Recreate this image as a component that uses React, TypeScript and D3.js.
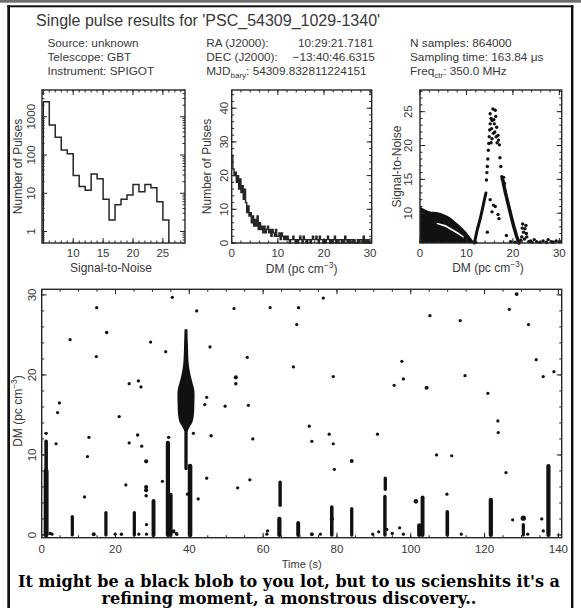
import * as d3 from "d3";

const W = 581;
const H = 608;

// header text
const titleText = "Single pulse results for 'PSC_54309_1029-1340'";
const sourceLines = ["Source: unknown", "Telescope: GBT", "Instrument: SPIGOT"];
const obsLines = ["N samples: 864000", "Sampling time: 163.84 \u03bcs"];
const captionLines = [
  "It might be a black blob to you lot, but to us scienshits it's a",
  "refining moment, a monstrous discovery..",
];

// SNR histogram (log counts), bins of width 1
const snrBinLow = [5, 6, 7, 8, 9, 10, 11, 12, 13, 14, 15, 16, 17, 18, 19, 20, 21, 22, 23, 24, 25];
const snrCounts = [2450, 610, 290, 135, 107, 29, 15, 12, 32, 24, 7, 2, 5, 7, 9, 17, 11, 17, 14, 6, 2];

// DM histogram, bins of 0.25 pc cm^-3 starting at 0
const dmBinWidth = 0.25;
const dmCounts = [
  26, 22, 20, 21, 18, 20, 16, 19, 15, 17, 13, 16, 12, 9, 11, 8, 9, 6, 8, 5, 7, 5, 8, 4,
  6, 4, 5, 3, 5, 3, 4, 5, 3, 4, 2, 4, 3, 2, 4, 2, 2, 3, 1, 3, 2, 1, 2, 1, 2, 1, 0, 1,
  1, 2, 1, 0, 1, 0, 1, 2, 1, 0, 2, 1, 1, 0, 1, 1, 0, 1, 2, 1, 1, 2, 1, 0, 2, 1, 1, 0,
  1, 0, 1, 2, 1, 0, 1, 0, 1, 2, 0, 1, 0, 1, 1, 0, 1, 0, 2, 1, 0, 1, 0, 1, 1, 0, 1, 0,
  0, 1, 0, 1, 1, 0, 2, 0, 1, 0, 1, 0,
];

// SNR vs DM: dense low-DM floor (upper envelope), a thin gap inside it, ridges and points
const floorDm = [0, 1, 2, 3, 4, 5, 6, 7, 8, 9, 10, 11, 11.7];
const floorSnr = [11.0, 10.6, 10.3, 10.2, 10.1, 9.9, 9.6, 9.1, 8.5, 7.9, 7.2, 6.3, 5.6];
const gapDm = [3.6, 5.5, 8, 9.4, 9.4, 8, 5.5, 3.6];
const gapSnr = [8.6, 8.25, 7.25, 6.6, 6.35, 6.95, 7.95, 8.4];
const leftRidge: [number, number][] = [[11.7, 5.6], [12.3, 7.5], [12.9, 9.0], [13.4, 10.5], [13.8, 11.8], [14.2, 13.0]];
const rightRidge: [number, number][] = [[17.9, 14.6], [18.4, 13.0], [19.0, 11.3], [19.6, 9.6], [20.2, 8.0], [20.8, 6.6], [21.3, 5.6]];
const dmSnrPoints: [number, number][] = [
  [14.3, 14.9], [14.4, 16], [14.5, 16.9], [14.6, 18], [14.7, 19.3], [14.8, 20.3], [14.9, 21.3],
  [15.0, 22.3], [15.1, 23.2], [15.1, 24.7], [15.3, 24.0], [15.5, 23.7], [15.4, 22.5], [15.5, 21.0],
  [15.7, 25.4], [15.8, 21.8], [15.9, 23.8], [16.0, 23.2], [16.1, 22.0], [16.2, 25.2], [16.3, 24.3],
  [16.4, 21.3], [16.5, 22.7], [16.6, 20.4], [16.8, 21.5], [16.9, 20.8], [17.1, 20.1], [17.2, 18.2],
  [17.4, 16.9], [17.6, 15.4], [17.7, 15.0], [17.9, 14.8], [18.0, 15.3], [18.2, 14.4], [15.3, 20.4],
  [15.1, 12.0], [15.8, 11.2], [16.2, 11.0], [15.5, 10.2], [17.0, 9.2], [14.5, 7.2], [18.6, 6.7], [16.8, 9.8],
  [22.1, 8.4], [22.8, 8.2], [22.3, 7.2], [21.9, 6.5], [23.0, 6.5], [23.4, 5.8], [22.6, 7.7], [22.0, 7.8],
  [22.9, 7.0], [21.7, 6.0], [22.5, 6.2], [19.5, 5.8], [20.5, 5.7], [23.8, 5.9], [24.1, 5.7], [24.6, 6.1],
  [25.1, 5.8], [25.8, 5.7], [26.5, 5.9], [27.2, 5.7], [27.6, 6.1], [28.3, 5.8], [28.7, 5.7], [29.3, 5.9],
  [30.0, 5.8], [12.0, 5.7],
];

// DM vs time: single events [time s, DM, SNR]
const pulseDots: [number, number, number][] = [
  [14.9, 28.4, 5.5], [35.4, 29.7, 5.5], [42, 28, 5.5], [52.1, 28.3, 5.5], [61.9, 28.4, 5.5], [69.6, 28.4, 5.5],
  [17.6, 25.3, 5.8], [7.7, 24.4, 5.5], [29.5, 24.1, 5.5], [45.6, 23.5, 5.5], [33.6, 22.9, 5.5], [69.1, 26.3, 5.5],
  [14.8, 22.3, 5.5], [55.7, 22.2, 5.5], [68.2, 21.0, 5.5], [52.6, 19.7, 6.8], [52.6, 18.9, 5.8], [23.7, 18.9, 5.5],
  [26.2, 19.25, 5.5], [26.9, 18.5, 5.5], [4.8, 16.5, 5.5], [4.3, 15.3, 5.5], [44.7, 17.2, 5.5], [44.2, 16.3, 5.5],
  [49.7, 16.1, 5.5], [56, 16.2, 5.5], [21, 14.8, 5.5], [26, 12.5, 5.8], [12.8, 12.2, 5.5], [45.9, 12.4, 5.8],
  [41.1, 12.7, 5.5], [57.2, 12, 5.5], [3.9, 11.4, 5.5], [23.7, 11.5, 5.5], [27.1, 11.1, 5.5], [12.4, 9.8, 5.5],
  [28.3, 9.2, 6.8], [44.7, 7.1, 5.5], [22.8, 6.25, 5.5], [32.7, 6.7, 5.5], [53.1, 5.9, 5.5], [56.4, 6.9, 5.5],
  [11.6, 4.75, 5.5], [42.4, 4.5, 5.5], [39.5, 5.1, 5.5], [28.3, 6.0, 6.8], [28.3, 5.6, 6.8], [28.3, 4.9, 5.8],
  [28.4, 1.3, 5.5], [28.4, 0.1, 5.5], [19.9, 0.1, 5.5], [21.6, 0.1, 5.8], [14.1, 0.1, 6.5], [26.3, 0.1, 5.5],
  [36.6, 0.1, 5.8], [35.7, 0.4, 5.8], [61, 0.1, 5.5], [61.2, 0.5, 5.5], [1.2, 12.7, 5.8], [34.4, 12.2, 5.8],
  [2.3, 0.2, 5.8], [2.8, 0.1, 5.5], [35.8, 0.5, 5.5], [36.5, 0.2, 5.5],
  [76.3, 29.6, 5.5], [128.7, 30.1, 6.5], [126.7, 28.2, 5.5], [105.2, 27.4, 5.5], [113.4, 26.8, 5.5],
  [131.9, 26.3, 5.5], [97.6, 21.7, 5.5], [79, 19.8, 5.5], [114.7, 19.9, 5.5], [98, 19.5, 5.5], [95.5, 18.7, 5.5],
  [104.3, 18.4, 6.8], [120.9, 17.7, 5.5], [134, 21.9, 5.5], [135.9, 19.8, 5.5], [138.8, 20.4, 5.5],
  [72.5, 13.6, 5.5], [73.2, 11.7, 5.5], [77.9, 12.6, 5.5], [79, 11.4, 5.5], [91, 12.6, 5.5], [123.6, 14.25, 5.5],
  [123.7, 12.8, 5.5], [107, 10, 5.5], [111.1, 9.9, 5.5], [79.3, 8.2, 5.5], [84, 9.25, 6.5], [125.8, 7.8, 5.5],
  [109.8, 5.1, 5.5], [127.6, 1.9, 5.5], [135.5, 2.0, 5.5], [73.2, 0.1, 6.5], [75.5, 0.1, 5.5], [89.7, 0.1, 5.5],
  [91.3, 0.4, 5.5], [93.5, 0.7, 5.5], [95, 0.2, 5.5], [97, 0.9, 5.5], [98, 0.1, 5.5], [113.7, 0.1, 5.5],
  [131.7, 0.1, 5.5], [135.9, 0.5, 5.5], [130.5, 2.1, 8.5], [101.4, 4.2, 7.5], [78.6, 2.0, 7.0],
];

// DM vs time: stacked repeat columns [time s, DM low, DM high, SNR]
const pulseColumns: [number, number, number, number][] = [
  [1.2, 0, 8, 8], [1.2, 8, 11.7, 6], [8.3, 0, 2.3, 5.5], [17.4, 0, 2.8, 5.5], [25.1, 0, 2.8, 5.5],
  [30.3, 0, 4.25, 6.5], [34.2, 0, 11.5, 7], [34.9, 0, 5, 7], [40.2, 0, 8.6, 7.5], [39.1, 8.3, 14, 5.6],
  [64.4, 0, 2, 7], [64.6, 3.7, 6.6, 5.8], [69.5, 0, 1.5, 6.5], [78.6, 0, 3.5, 6], [84, 0, 3.3, 5.6],
  [93, 0, 4.8, 5.8], [93.1, 5.7, 7.1, 5.6], [103.2, 0, 4.7, 6.5], [102.3, 0, 1.2, 7], [109.9, 0, 2.9, 6],
  [121.7, 0, 4.4, 7], [130.5, 0, 1.3, 5.5], [137.3, 0, 8.6, 7],
];

// the big pulse at ~39 s: SNR profile along DM
const blobTime = 39.1;
const blobDm = [13, 13.5, 14, 14.8, 16.5, 18.1, 19, 20.1, 21.4, 23.9, 25.7];
const blobSnr = [5.9, 11.3, 18.7, 23.5, 25.6, 25.4, 20.1, 13.7, 8.8, 6.3, 5];

const ink = "#262626";
const txt = "#383838";
const tickFont = 11.5;
const titleFont = 12;

function span(a: number, b: number, step: number) {
  const lo = Math.min(a, b);
  const hi = Math.max(a, b);
  return d3.range(Math.ceil(lo / step - 1e-9) * step, hi + 1e-9, step);
}

function Frame({ xs, ys, xMajor, xMinor, yMajor, yMinor }: any) {
  const [l, r] = xs.range();
  const [b, t] = ys.range();
  const out: any[] = [];
  const xt = (v: number, len: number, k: string) => {
    const p = xs(v);
    out.push(<line key={"xb" + k} x1={p} x2={p} y1={b} y2={b - len} />);
    out.push(<line key={"xt" + k} x1={p} x2={p} y1={t} y2={t + len} />);
  };
  const yt = (v: number, len: number, k: string) => {
    const p = ys(v);
    out.push(<line key={"yl" + k} x1={l} x2={l + len} y1={p} y2={p} />);
    out.push(<line key={"yr" + k} x1={r} x2={r - len} y1={p} y2={p} />);
  };
  xMinor.forEach((v: number, i: number) => xt(v, 2.5, "m" + i));
  xMajor.forEach((v: number, i: number) => xt(v, 5, "M" + i));
  yMinor.forEach((v: number, i: number) => yt(v, 2.5, "m" + i));
  yMajor.forEach((v: number, i: number) => yt(v, 5, "M" + i));
  return (
    <g stroke={ink} fill="none" strokeWidth={1}>
      {out}
      <rect x={l} y={t} width={r - l} height={b - t} strokeWidth={1.4} />
    </g>
  );
}

function XLabels({ xs, values, y }: any) {
  return (
    <g fontSize={tickFont} fill={txt} textAnchor="middle" dominantBaseline="central">
      {values.map((v: number) => (
        <text key={v} x={xs(v)} y={y}>{v}</text>
      ))}
    </g>
  );
}

function YLabels({ ys, values, x }: any) {
  return (
    <g fontSize={tickFont} fill={txt} textAnchor="middle" dominantBaseline="central">
      {values.map((v: number) => (
        <text key={v} transform={`translate(${x},${ys(v)}) rotate(-90)`}>{v}</text>
      ))}
    </g>
  );
}

function DmUnit() {
  return (
    <>
      DM (pc cm<tspan dy={-4.5} fontSize={8.5}>{"\u22123"}</tspan><tspan dy={4.5}>)</tspan>
    </>
  );
}

function AxisTitle({ x, y, rotate, size, children }: any) {
  return (
    <text
      transform={rotate ? `translate(${x},${y}) rotate(-90)` : undefined}
      x={rotate ? undefined : x}
      y={rotate ? undefined : y}
      fontSize={size ?? titleFont}
      fill={txt}
      textAnchor="middle"
      dominantBaseline="central"
    >
      {children}
    </text>
  );
}

export default function App() {
  // panel 1: SNR histogram
  const x1 = d3.scaleLinear().domain([4.78, 28.7]).range([42, 185]);
  const y1 = d3.scaleLog().domain([0.5, 5000]).range([243, 90]);
  const snrSteps: [number, number][] = snrBinLow.map((v, i) => [v, snrCounts[i]]);
  const lastBin = snrBinLow[snrBinLow.length - 1] + 1;
  const snrLine = d3
    .line<[number, number]>()
    .x((d) => x1(d[0]))
    .y((d) => y1(Math.max(d[1], 0.5)))
    .curve(d3.curveStepAfter)([[snrBinLow[0], 0.5], ...snrSteps, [lastBin, snrCounts[snrCounts.length - 1]], [lastBin, 0.5]]);
  const logMinor: number[] = [];
  [0.1, 1, 10, 100, 1000].forEach((dec) =>
    d3.range(2, 10).forEach((m) => {
      const v = dec * m;
      if (v >= 0.5 && v <= 5000) logMinor.push(v);
    })
  );

  // panel 2: DM histogram
  const x2 = d3.scaleLinear().domain([0, 30.35]).range([231.7, 371.7]);
  const y2 = d3.scaleLinear().domain([0, 45.4]).range([243, 90]);
  const dmSteps: [number, number][] = dmCounts.map((c, i) => [i * dmBinWidth, c]);
  dmSteps.push([dmCounts.length * dmBinWidth, dmCounts[dmCounts.length - 1]]);
  const dmLine = d3
    .line<[number, number]>()
    .x((d) => x2(d[0]))
    .y((d) => y2(d[1]))
    .curve(d3.curveStepAfter)(dmSteps);

  // panel 3: SNR vs DM
  const x3 = d3.scaleLinear().domain([0, 30.5]).range([420, 561.7]);
  const y3 = d3.scaleLinear().domain([5.6, 28.2]).range([243, 90]);
  const floorPts: [number, number][] = floorDm.map((d, i) => [d, floorSnr[i]]);
  const floorArea = d3
    .area<[number, number]>()
    .x((d) => x3(d[0]))
    .y0(y3(5.6))
    .y1((d) => y3(d[1]))
    .curve(d3.curveMonotoneX)(floorPts);
  const gapPath = d3
    .line<[number, number]>()
    .x((d) => x3(d[0]))
    .y((d) => y3(d[1]))
    .curve(d3.curveLinearClosed)(gapDm.map((d, i) => [d, gapSnr[i]]));
  const ridge = d3
    .line<[number, number]>()
    .x((d) => x3(d[0]))
    .y((d) => y3(d[1]));

  // panel 4: DM vs time
  const x4 = d3.scaleLinear().domain([0, 140.9]).range([41.7, 561.7]);
  const y4 = d3.scaleLinear().domain([-0.34, 30.7]).range([537.7, 289.3]);
  const rad = d3.scaleLinear().domain([5, 25]).range([1.45, 8.2]);
  const blobPts: [number, number][] = blobDm.map((d, i) => [d, blobSnr[i]]);
  const blobArea = d3
    .area<[number, number]>()
    .y((d) => y4(d[0]))
    .x0((d) => x4(blobTime) - rad(d[1]))
    .x1((d) => x4(blobTime) + rad(d[1]))
    .curve(d3.curveCatmullRom)(blobPts);

  const hdr = 11.8;
  const row = [47, 61, 75];

  return (
    <svg
      width={W}
      height={H}
      style={{ position: "absolute", left: 0, top: 0, background: "#fff" }}
      fontFamily="'Liberation Sans', Arial, sans-serif"
    >
      <rect x={0} y={0} width={W} height={H} fill="#fff" />
      {/* outer frame */}
      <rect x={0} y={0} width={W} height={2.7} fill="#6e6e6e" />
      <rect x={7.3} y={5.3} width={566} height={2} fill="#111" />
      <rect x={7.3} y={5.3} width={2.7} height={H} fill="#111" />
      <rect x={571} y={5.3} width={2.4} height={H} fill="#111" />

      {/* header */}
      <g fill={txt}>
        <text x={36} y={26} fontSize={16}>{titleText}</text>
        <g fontSize={hdr}>
          {sourceLines.map((s, i) => (
            <text key={s} x={47.4} y={row[i]}>{s}</text>
          ))}
          <text x={206.3} y={row[0]}>RA (J2000):</text>
          <text x={298} y={row[0]}>10:29:21.7181</text>
          <text x={206.3} y={row[1]}>DEC (J2000):</text>
          <text x={292.6} y={row[1]}>{"\u221213:40:46.6315"}</text>
          <text x={206.3} y={row[2]}>
            MJD<tspan dy={3} fontSize={8}>bary</tspan>
            <tspan dy={-3}>: 54309.832811224151</tspan>
          </text>
          {obsLines.map((s, i) => (
            <text key={s} x={410} y={row[i]}>{s}</text>
          ))}
          <text x={410} y={row[2]}>
            Freq<tspan dy={3} fontSize={8}>ctr</tspan>
            <tspan dy={-3}>: 350.0 MHz</tspan>
          </text>
        </g>
      </g>

      {/* panel 1 */}
      <path d={snrLine ?? ""} fill="none" stroke={ink} strokeWidth={1.5} />
      <Frame xs={x1} ys={y1} xMajor={span(5, 28.7, 5)} xMinor={span(4.78, 28.7, 1)} yMajor={[1, 10, 100, 1000]} yMinor={logMinor} />
      <XLabels xs={x1} values={[10, 15, 20, 25]} y={253.3} />
      <YLabels ys={y1} values={[1, 10, 100, 1000]} x={30.7} />
      <AxisTitle x={18.3} y={166.5} rotate>Number of Pulses</AxisTitle>
      <AxisTitle x={111} y={268.3}>Signal-to-Noise</AxisTitle>

      {/* panel 2 */}
      <path d={dmLine ?? ""} fill="none" stroke={ink} strokeWidth={1.4} />
      <Frame xs={x2} ys={y2} xMajor={span(0, 30.35, 10)} xMinor={span(0, 30.35, 2)} yMajor={span(0, 45.4, 10)} yMinor={span(0, 45.4, 2)} />
      <XLabels xs={x2} values={[0, 10, 20, 30]} y={253.3} />
      <YLabels ys={y2} values={[0, 10, 20, 30, 40]} x={224} />
      <AxisTitle x={206.7} y={166.5} rotate>Number of Pulses</AxisTitle>
      <AxisTitle x={301.7} y={269.3}><DmUnit /></AxisTitle>

      {/* panel 3 */}
      <path d={floorArea ?? ""} fill="#111" />
      <path d={gapPath ?? ""} fill="#fff" />
      <path d={ridge(leftRidge) ?? ""} fill="none" stroke="#111" strokeWidth={3} strokeLinecap="round" />
      <path d={ridge(rightRidge) ?? ""} fill="none" stroke="#111" strokeWidth={3.5} strokeLinecap="round" />
      <g fill="#111">
        {dmSnrPoints.map((p, i) => (
          <circle key={i} cx={x3(p[0])} cy={y3(p[1])} r={1.7} />
        ))}
      </g>
      <Frame xs={x3} ys={y3} xMajor={span(0, 30.5, 10)} xMinor={span(0, 30.5, 2)} yMajor={span(5.6, 28.2, 5)} yMinor={span(5.6, 28.2, 1)} />
      <XLabels xs={x3} values={[0, 10, 20, 30]} y={253.3} />
      <YLabels ys={y3} values={[10, 15, 20, 25]} x={408.3} />
      <AxisTitle x={396.7} y={166.5} rotate>Signal-to-Noise</AxisTitle>
      <AxisTitle x={488} y={268.3}><DmUnit /></AxisTitle>

      {/* panel 4 */}
      <g stroke="#111" strokeLinecap="round">
        {pulseColumns.map((c, i) => (
          <line key={i} x1={x4(c[0])} x2={x4(c[0])} y1={y4(c[1])} y2={y4(c[2])} strokeWidth={2 * rad(c[3])} />
        ))}
      </g>
      <path d={blobArea ?? ""} fill="#111" />
      <g fill="#111">
        {pulseDots.map((p, i) => (
          <circle key={i} cx={x4(p[0])} cy={y4(p[1])} r={rad(p[2])} />
        ))}
      </g>
      <Frame xs={x4} ys={y4} xMajor={span(0, 140.9, 20)} xMinor={span(0, 140.9, 5)} yMajor={span(-0.34, 30.7, 10)} yMinor={span(-0.34, 30.7, 2)} />
      <XLabels xs={x4} values={d3.range(0, 141, 20)} y={549.3} />
      <YLabels ys={y4} values={[0, 10, 20, 30]} x={31.7} />
      <AxisTitle x={18.3} y={411} rotate><DmUnit /></AxisTitle>
      <AxisTitle x={301.7} y={564} size={11}>Time (s)</AxisTitle>

      {/* caption */}
      <g fontFamily="'DejaVu Serif', serif" fontWeight="bold" fontSize={17} fill="#000" textAnchor="middle">
        <text x={289} y={586.5} textLength={542} lengthAdjust="spacingAndGlyphs">{captionLines[0]}</text>
        <text x={289} y={603.5} textLength={375} lengthAdjust="spacingAndGlyphs">{captionLines[1]}</text>
      </g>
    </svg>
  );
}
